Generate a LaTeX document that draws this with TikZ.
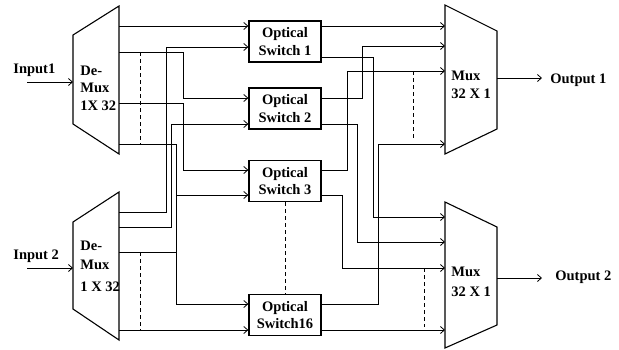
\documentclass[tikz,border=0pt]{standalone}
\usepackage{fontspec}
\setmainfont{Liberation Serif}
\usetikzlibrary{arrows.meta, positioning, calc}

\begin{document}
\begin{tikzpicture}[x=1pt, y=-1pt, line width=0.8pt,
    >={Straight Barb[length=4pt, width=7pt]},
    lbl/.style={font=\fontsize{14.5}{17.5}\selectfont\bfseries, align=left, inner sep=0pt},
    switchbox/.style={draw, line width=1.3pt, minimum width=72pt, minimum height=41pt,
        inner sep=0pt, align=center, font=\fontsize{14.5}{17.5}\selectfont\bfseries},
    muxbody/.style={draw, line width=1.1pt},
    guide/.style={dashed, dash pattern=on 4pt off 3pt}]
        \useasboundingbox (0,0) rectangle (619,349);

        % De-Mux blocks
        \draw[muxbody] (73,35) -- (119,6) -- (119,154) -- (73,124) -- cycle;
        \draw[muxbody] (73,222) -- (119,192) -- (119,340) -- (73,309) -- cycle;
        \node[lbl, anchor=west] (dmx1) at (80,88) {De-\\Mux\\1X 32};
        \node[lbl, anchor=west] (dmx2) at (80,266) {De-\\[2pt]Mux\\[4pt]1 X 32};

        % Mux blocks
        \draw[muxbody] (445,5) -- (497,31) -- (497,129) -- (445,154) -- cycle;
        \draw[muxbody] (445,202) -- (497,227) -- (497,325) -- (445,348) -- cycle;
        \node[lbl, anchor=west] (mx1) at (451,85) {Mux\\32 X 1};
        \node[lbl, anchor=west] (mx2) at (451,282) {Mux\\[3pt]32 X 1};

        % Optical switches
        \node[switchbox] (sw1) at (285,41.5) {Optical\\Switch 1};
        \node[switchbox] (sw2) at (285,108.5) {Optical\\Switch 2};
        \node[switchbox] (sw3) at (285,181) {Optical\\Switch 3};
        \node[switchbox] (sw16) at (285,315) {Optical\\Switch16};

        % Inputs and outputs
        \node[lbl, anchor=west] (in1lbl) at (13,70) {Input1};
        \node[lbl, anchor=west] (in2lbl) at (13,256) {Input 2};
        \node[lbl, anchor=west] (out1lbl) at (550,80) {Output 1};
        \node[lbl, anchor=west] (out2lbl) at (555,277) {Output 2};
        \coordinate (in1) at (27,82);
        \coordinate (in2) at (27,268);
        \coordinate (d1in) at (73,82);
        \coordinate (d2in) at (73,268);
        \coordinate (m1o) at (497,78);
        \coordinate (m2o) at (497,278);
        \coordinate (out1) at (542,78);
        \coordinate (out2) at (542,278);
        \draw[->] (in1) -- (d1in);
        \draw[->] (in2) -- (d2in);
        \draw[->] (m1o) -- (out1);
        \draw[->] (m2o) -- (out2);

        % Ports
        \foreach \n/\y in {a/26, b/52, c/103, d/144} {
            \coordinate (d1\n) at (119,\y);
        }
        \foreach \n/\y in {a/212, b/227, c/252, d/330} {
            \coordinate (d2\n) at (119,\y);
        }
        \foreach \n/\y in {a/26, b/46, c/71, d/144} {
            \coordinate (m1\n) at (445,\y);
        }
        \foreach \n/\y in {a/217, b/242, c/268, d/330} {
            \coordinate (m2\n) at (445,\y);
        }

        % De-Mux to switches
        \draw[->] (d1a) -- (d1a -| sw1.west);
        \draw[->] (d1b) -| (183,98) -- (sw2.west |- 0,98);
        \draw[->] (d1c) -| (183,170) -- (sw3.west |- 0,170);
        \draw[->] (d1d) -| (176,304) -- (sw16.west |- 0,304);
        \draw[->] (d2a) -| (166,47) -- (sw1.west |- 0,47);
        \draw[->] (d2b) -| (171,124) -- (sw2.west |- 0,124);
        \draw[->] (d2c) -| (176,195) -- (sw3.west |- 0,195);
        \draw[->] (d2d) -- (d2d -| sw16.west);

        % Switches to Mux
        \draw[->] (sw1.east |- m1a) -- (m1a);
        \draw[->] (sw1.east |- 0,57) -| (373,217) -- (m2a);
        \draw[->] (sw2.east |- 0,98) -| (362,46) -- (m1b);
        \draw[->] (sw2.east |- 0,124) -| (357,242) -- (m2b);
        \draw[->] (sw3.east |- 0,170) -| (347,71) -- (m1c);
        \draw[->] (sw3.east |- 0,195) -| (342,268) -- (m2c);
        \draw[->] (sw16.east |- 0,304) -| (378,144) -- (m1d);
        \draw[->] (sw16.east |- m2d) -- (m2d);

        % Dots for the remaining ports
        \draw[guide] (140,52) -- (140,144);
        \draw[guide] (140,252) -- (140,330);
        \draw[guide] (sw3.south) -- (sw16.north);
        \draw[guide] (413,71) -- (413,140);
        \draw[guide] (424,268) -- (424,327);
    \end{tikzpicture}
\end{document}
